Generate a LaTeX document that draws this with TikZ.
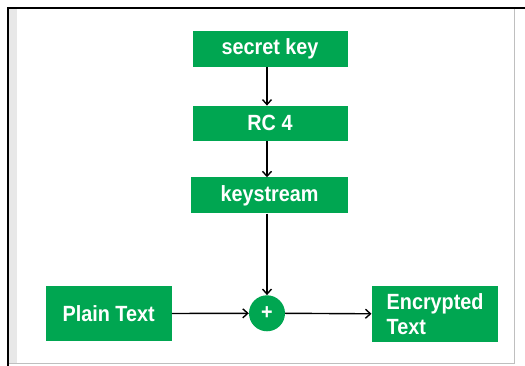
\documentclass[tikz,border=0pt]{standalone}
\usepackage{fontspec}
\setmainfont{Liberation Sans}
\newfontfamily\boxfont[FakeStretch=0.9]{Liberation Sans}
\usetikzlibrary{arrows.meta}
\definecolor{gfg}{HTML}{00A651}
\begin{document}
\begin{tikzpicture}[x=1pt,y=1pt,
  gbox/.style={fill=gfg,text=white,font=\boxfont\bfseries\fontsize{22}{25}\selectfont,inner sep=0pt,anchor=center},
  arr/.style={draw=black,line width=1.4pt,-{Straight Barb[length=5pt,width=9pt,line width=1.4pt]}}]
\useasboundingbox (0,0) rectangle (525,366);
\fill[white] (0,0) rectangle (525,366);
% frame
\fill[gray!18] (9,3) rectangle (17,357);
\draw[black!25,line width=0.8pt] (9,3) -- (514,3) -- (514,357);
\draw[black,line width=2pt] (8,0) -- (8,358) -- (525,358);
% nodes
\node[gbox,minimum width=155pt,minimum height=36pt] (sk) at (270,317.3) {secret key};
\node[gbox,minimum width=155pt,minimum height=35pt] (rc) at (270,242.7) {RC 4};
\node[gbox,minimum width=157pt,minimum height=36pt] (ks) at (269.5,170.5) {keystream};
\node[gbox,circle,minimum size=36pt] (xo) at (267,52.7) {+};
\node[gbox,minimum width=126pt,minimum height=56pt,text width=96pt,align=left] (et) at (434.7,52.2) {Encrypted\\Text};
\node[gbox,minimum width=126pt,minimum height=55pt] (pt) at (108.7,52.5) {Plain Text};
% connectors
\draw[arr] (sk.south -| xo) -- (rc.north -| xo);
\draw[arr] (rc.south -| xo) -- (ks.north -| xo);
\draw[arr] (ks.south -| xo) -- (xo.north);
\draw[arr] (pt.east) -- (xo.west);
\draw[arr] (xo.east) -- (et.west);
\end{tikzpicture}
\end{document}
